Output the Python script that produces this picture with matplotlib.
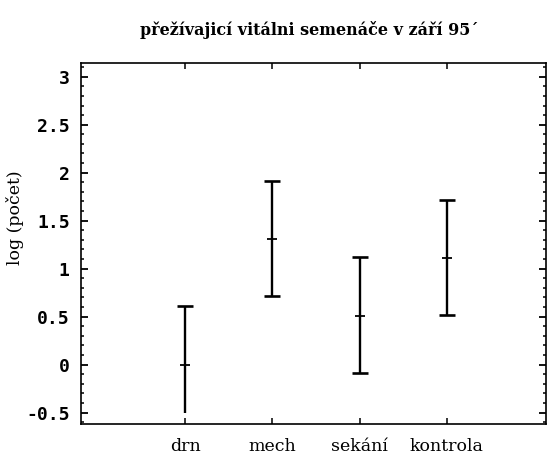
"""
Survival of vital seedlings, September 95 - mean log(count) with error bars
"""

import matplotlib.pyplot as plt
from matplotlib.ticker import MultipleLocator

# Data
categories = ['drn', 'mech', 'sekání', 'kontrola']
means = [0.0, 1.31, 0.51, 1.11]
upper = [0.61, 1.91, 1.12, 1.72]
lower = [-0.5, 0.71, -0.09, 0.52]
has_lower_cap = [False, True, True, True]

positions = list(range(1, len(categories) + 1))

# Create figure
fig = plt.figure(figsize=(5.48, 4.63), dpi=100)
ax = fig.add_axes([0.1473, 0.0842, 0.8491, 0.7791])

# Error bars: vertical line, caps and a short tick at the mean
ax.vlines(positions, lower, upper, color='black', linewidth=1.7)
ax.plot(positions, upper, linestyle='none', marker='_', markersize=11,
        markeredgewidth=1.9, color='black')
cap_x = [p for p, c in zip(positions, has_lower_cap) if c]
cap_y = [v for v, c in zip(lower, has_lower_cap) if c]
ax.plot(cap_x, cap_y, linestyle='none', marker='_', markersize=11,
        markeredgewidth=1.9, color='black')
ax.plot(positions, means, linestyle='none', marker='_', markersize=7,
        markeredgewidth=1.3, color='black')

# Axes limits and ticks
ax.set_xlim(-0.2, 5.14)
ax.set_ylim(-0.62, 3.14)
ax.set_xticks(positions)
ax.set_xticklabels(categories, family='DejaVu Serif', fontsize=12.5)
ax.yaxis.set_minor_locator(MultipleLocator(0.1))
ax.set_yticks([-0.5, 0, 0.5, 1, 1.5, 2, 2.5, 3])
ax.set_yticklabels(['-0.5', '0', '0.5', '1', '1.5', '2', '2.5', '3'],
                   family='DejaVu Sans Mono', fontweight='bold', fontsize=13)

ax.tick_params(axis='y', which='major', direction='in', length=5, width=1.3,
               left=True, right=True, pad=8)
ax.tick_params(axis='y', which='minor', direction='in', length=2.5, width=1.1,
               left=True, right=True)
ax.tick_params(axis='x', which='major', direction='in', length=4, width=1.1,
               top=True, bottom=True, pad=10)
ax.tick_params(axis='x', which='minor', bottom=False, top=False)

for spine in ax.spines.values():
    spine.set_linewidth(1.2)

# Labels
fig.text(0.027, 0.53, 'log (počet)', rotation=90, ha='center', va='center',
         family='DejaVu Serif', fontsize=12.5)
fig.text(0.565, 0.935, 'přežívajicí vitálni semenáče v září 95´',
         ha='center', va='center', family='DejaVu Serif', fontweight='bold',
         fontsize=11.5)

plt.savefig('out.png', dpi=100)
plt.close()
